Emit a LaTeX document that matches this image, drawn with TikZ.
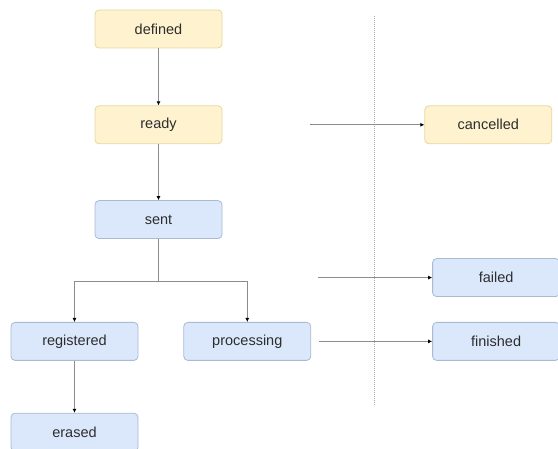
\documentclass[tikz,border=0pt]{standalone}
\usepackage{fontspec}
\setmainfont{Liberation Sans}
\usepackage{xcolor}
\usetikzlibrary{arrows.meta,positioning,calc}
\definecolor{pendfill}{RGB}{255, 242, 206}
\definecolor{penddraw}{RGB}{232, 214, 160}
\definecolor{runfill}{RGB}{219, 232, 252}
\definecolor{rundraw}{RGB}{168, 186, 212}
\definecolor{linegray}{RGB}{140, 140, 140}
\definecolor{textgray}{RGB}{45, 45, 45}

\begin{document}
\begin{tikzpicture}[
    x=1pt, y=1pt,
    node distance=57pt and 45pt,
    state/.style={rectangle, rounded corners=4pt, line width=0.8pt, minimum width=127pt, minimum height=38pt, inner sep=0pt, font=\fontsize{14.5}{17}\selectfont, text=textgray},
    pending/.style={state, draw=penddraw, fill=pendfill},
    running/.style={state, draw=rundraw, fill=runfill},
    link/.style={line width=0.8pt, linegray},
    arrow/.style={-{Latex[length=4pt, width=4pt, color=black]}, line width=0.8pt, linegray},
    divider/.style={line width=0.9pt, gray!70, dash pattern=on 1pt off 1pt}
]
\useasboundingbox (0,0) rectangle (558,-449);

% Pending states
\node[pending] (defined) at (158.5,-29) {defined};
\node[pending, below=57pt of defined] (ready) {ready};

% Running states
\node[running, below=56pt of ready] (sent) {sent};
\node[running, below=83pt of sent, xshift=-84pt] (registered) {registered};
\node[running, right=45pt of registered] (processing) {processing};
\node[running, below=52pt of registered] (erased) {erased};

% End states, right of the divider
\node[pending, right=202pt of ready] (cancelled) {cancelled};
\node[running, right=121pt of processing] (finished) {finished};
\node[running, above=25pt of finished] (failed) {failed};

% Divider
\coordinate (divtop) at (374,-16);
\coordinate (divbot) at (374,-405);
\draw[divider] (divtop) -- (divbot);

% Free ends of the side transitions
\coordinate (cancelsrc) at (310,0 |- cancelled);
\coordinate (failsrc) at (318,0 |- failed);

% Connectors
\draw[arrow] (defined) -- (ready);
\draw[arrow] (ready) -- (sent);
\draw[link] (sent.south) -- ++(0,-42) coordinate (split);
\draw[arrow] (split) -| (registered);
\draw[arrow] (split) -| (processing);
\draw[arrow] (registered) -- (erased);

\draw[arrow] (cancelsrc) -- (cancelled);
\draw[arrow] (failsrc) -- (failed);
\draw[arrow, shorten <=8pt] (processing) -- (finished);

\end{tikzpicture}
\end{document}
